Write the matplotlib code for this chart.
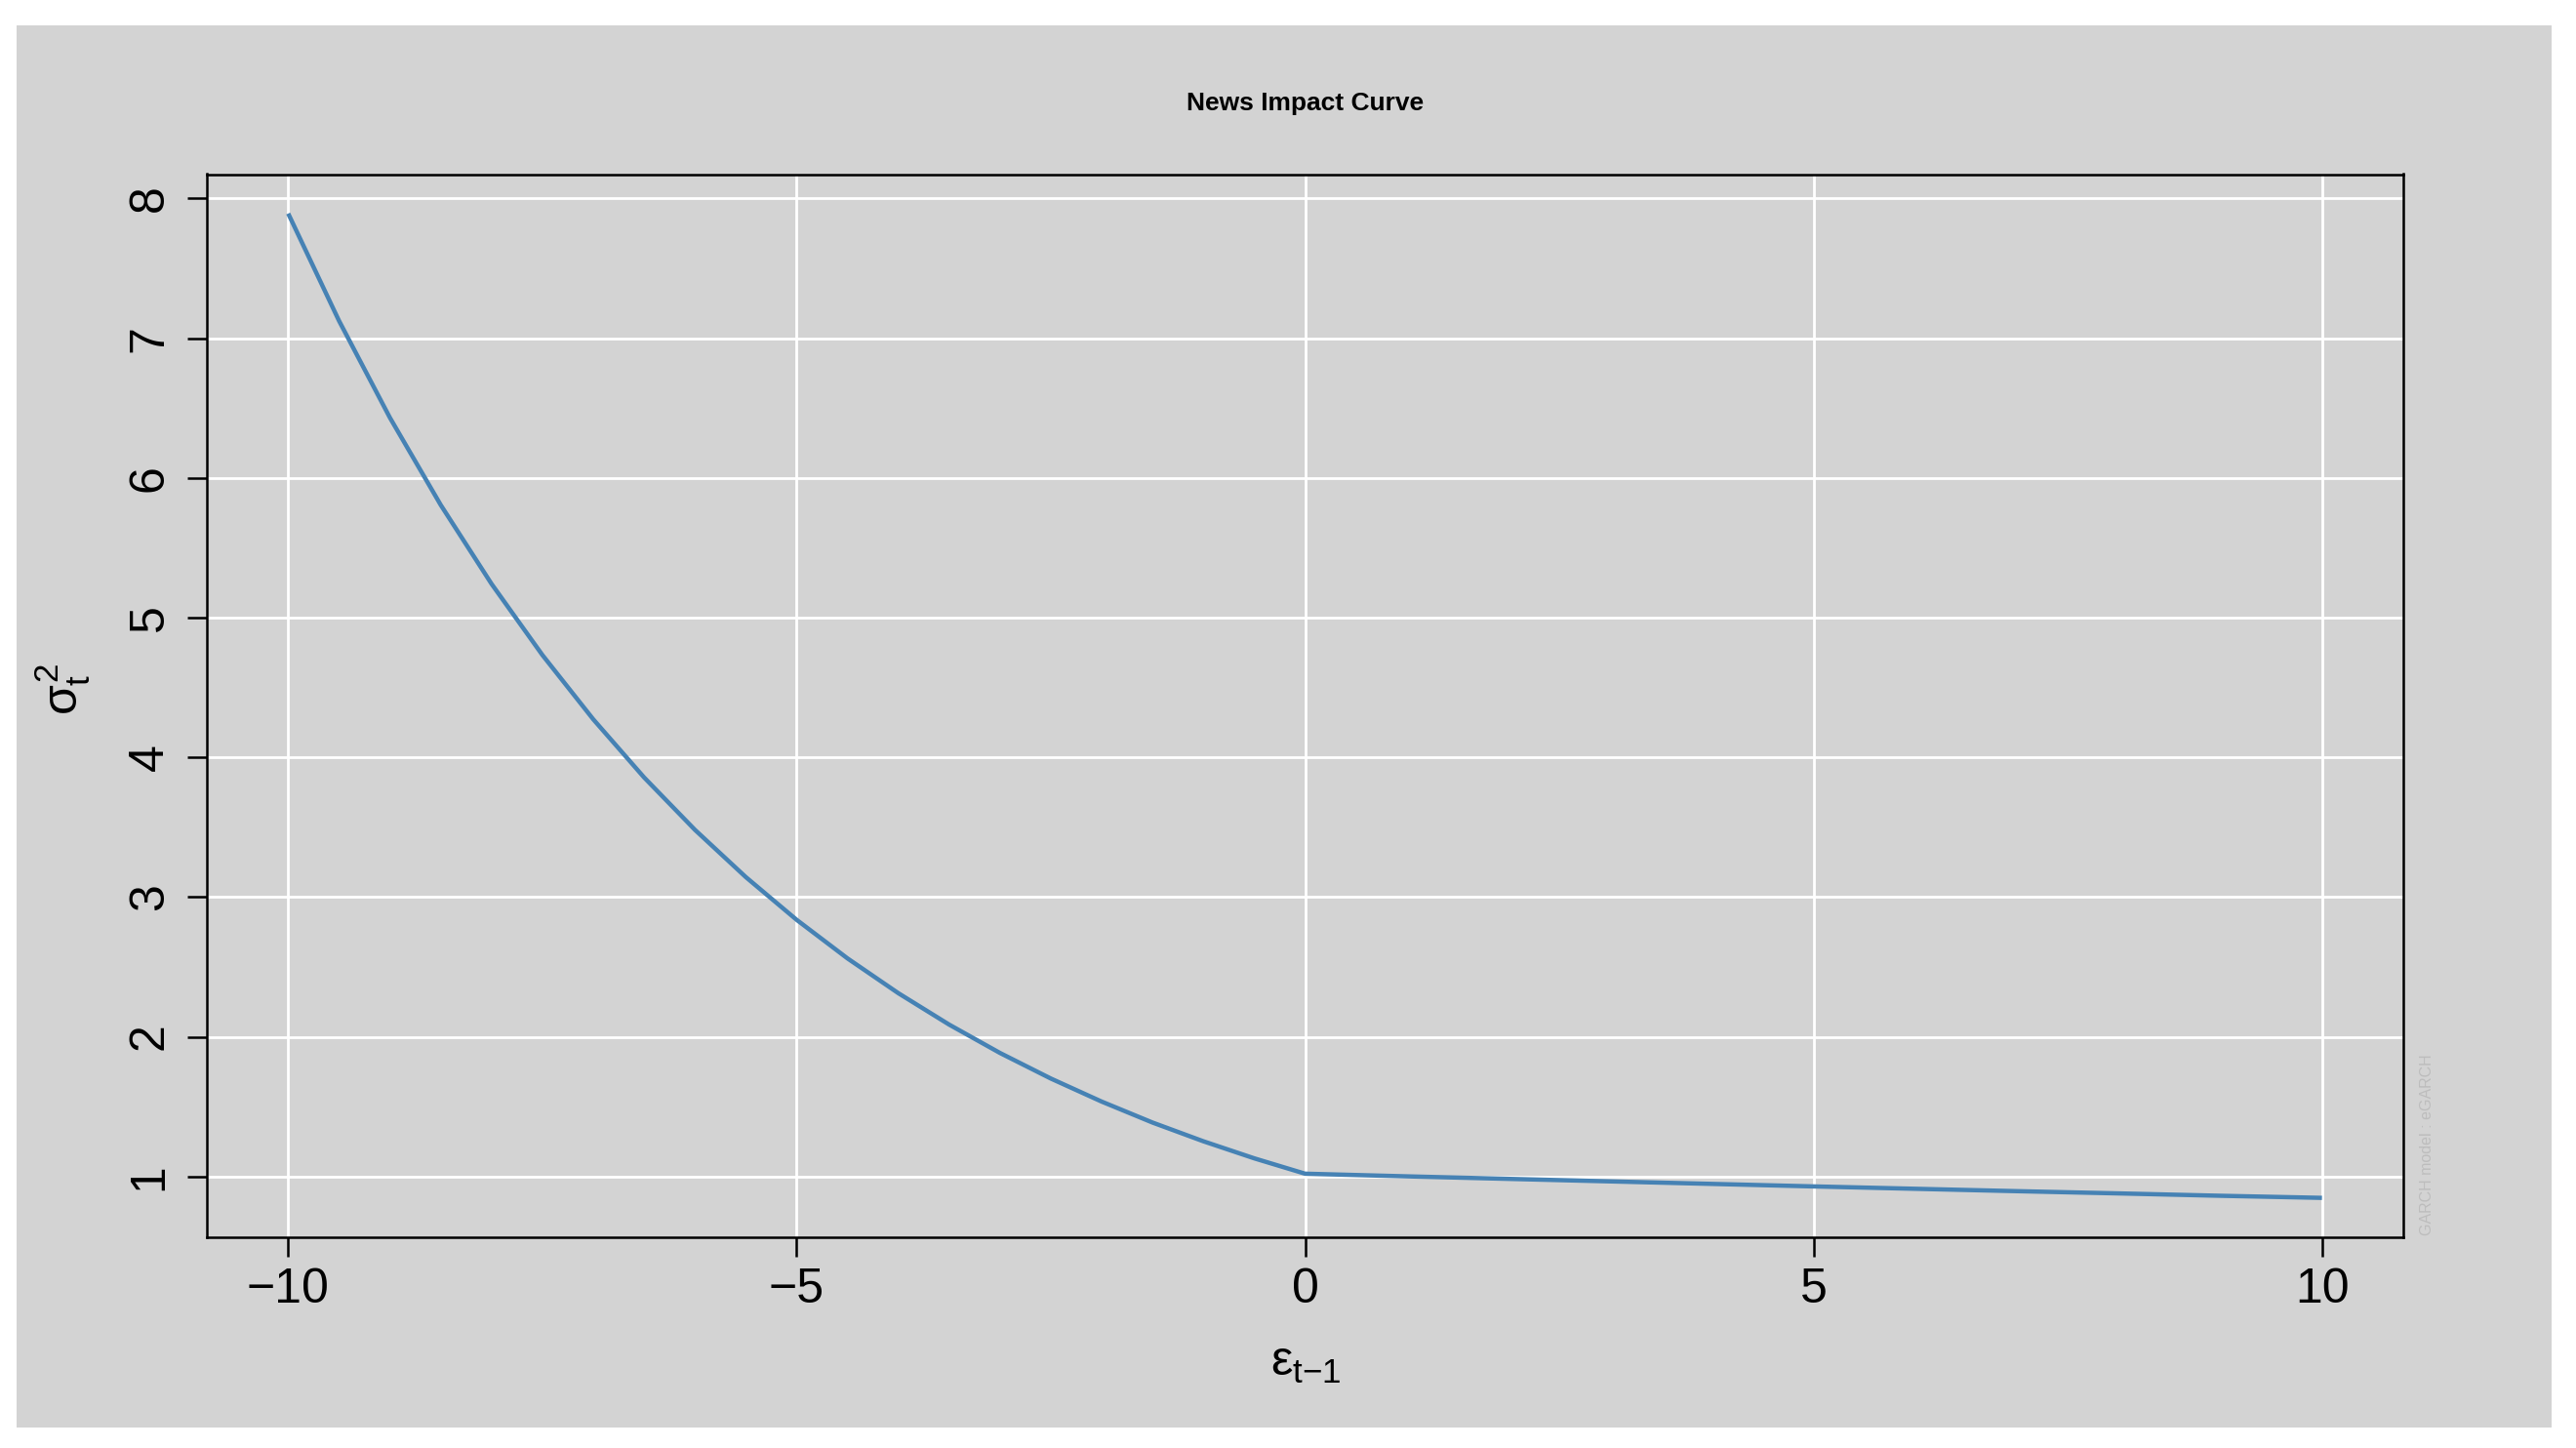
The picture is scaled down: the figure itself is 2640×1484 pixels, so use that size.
import matplotlib.pyplot as plt
from matplotlib.patches import Rectangle

# ----------------------------------------------------
# dati (news impact curve eGARCH)
# ----------------------------------------------------
eps_neg = [-10.0, -9.5, -9.0, -8.5, -8.0, -7.5, -7.0, -6.5, -6.0, -5.5, -5.0,
           -4.5, -4.0, -3.5, -3.0, -2.5, -2.0, -1.5, -1.0, -0.5, 0.0]
sig_neg = [7.892, 7.124, 6.431, 5.806, 5.241, 4.732, 4.272, 3.856, 3.481, 3.143, 2.837,
           2.561, 2.312, 2.087, 1.884, 1.701, 1.536, 1.386, 1.252, 1.130, 1.020]
eps_pos = [1, 2, 3, 4, 5, 6, 7, 8, 9, 10]
sig_pos = [1.001, 0.983, 0.965, 0.947, 0.929, 0.912, 0.895, 0.879, 0.862, 0.847]

x_ticks = [-10, -5, 0, 5, 10]
y_ticks = [1, 2, 3, 4, 5, 6, 7, 8]

eps = eps_neg + eps_pos
sig = sig_neg + sig_pos

plt.rcParams['font.family'] = ['Liberation Sans', 'DejaVu Sans']
plt.rcParams['mathtext.fontset'] = 'custom'
plt.rcParams['mathtext.rm'] = 'Liberation Sans'
plt.rcParams['mathtext.it'] = 'Liberation Sans'
plt.rcParams['mathtext.bf'] = 'Liberation Sans:bold'

W, H = 2640, 1484
fig = plt.figure(figsize=(W / 100, H / 100), dpi=100, facecolor="white")

# pannello grigio con bordo bianco
fig.patches.append(Rectangle((17 / W, 1 - 1463 / H), (2615 - 17) / W, (1463 - 26) / H,
                             transform=fig.transFigure, facecolor="#d3d3d3",
                             edgecolor="none", zorder=-10))

ax = fig.add_axes([212 / W, 1 - 1268 / H, (2463 - 212) / W, (1268 - 178.5) / H])
ax.set_facecolor("#d3d3d3")

ax.plot(eps, sig, color="steelblue", linewidth=3.2, zorder=3,
        solid_joinstyle="round", solid_capstyle="butt")

xr = 20 * 0.04
ax.set_xlim(-10 - xr, 10 + xr)
ymin, ymax = min(sig), max(sig)
yr = (ymax - ymin) * 0.04
ax.set_ylim(ymin - yr, ymax + yr)

ax.set_xticks(x_ticks)
ax.set_yticks(y_ticks)
ax.set_xticklabels([str(v).replace("-", "\u2212") for v in x_ticks])
ax.set_yticklabels([str(v) for v in y_ticks])
ax.grid(True, color="white", linewidth=2.0, zorder=1)
ax.set_axisbelow(True)

for s in ax.spines.values():
    s.set_linewidth(1.8)
    s.set_color("black")

ax.tick_params(axis="both", direction="out", length=14.4, width=1.8, labelsize=36, colors="black")
ax.tick_params(axis="x", pad=8)
ax.tick_params(axis="y", pad=11, labelrotation=90)
for lab in ax.get_yticklabels():
    lab.set_va("center")

fig.text(0.5067, 1 - 106 / H, "News Impact Curve", fontsize=19, fontweight="bold",
         ha="center", va="center")
fig.text(0.5067, 1 - 1397 / H, r"$\varepsilon_{t{-}1}$", fontsize=36, ha="center", va="center")
fig.text(64 / W, 1 - 707 / H, r"$\sigma_{t}^{2}$", fontsize=36, rotation=90,
         ha="center", va="center")
fig.text(2488 / W, 1 - 1173 / H, "GARCH model : eGARCH", fontsize=11.5, rotation=90,
         color="#bdbdbd", ha="center", va="center")

plt.savefig("out.png", dpi=100, facecolor=fig.get_facecolor())
